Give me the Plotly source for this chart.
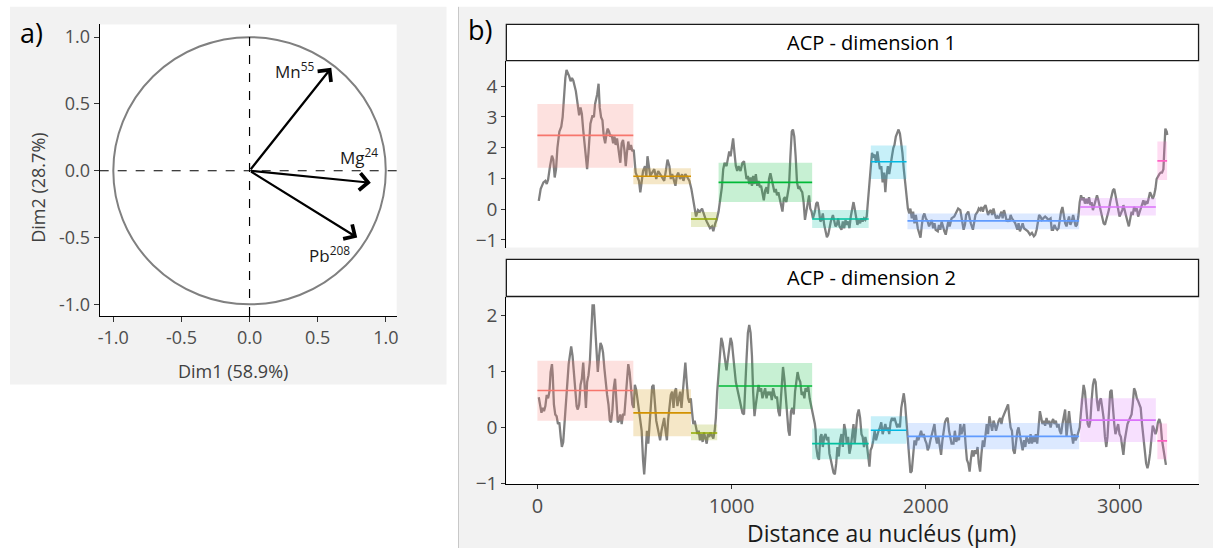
import plotly.graph_objects as go

W, H = 1215, 560
FONT = "Open Sans"

# ---------------- data: panel a (PCA correlation circle) ----------------
var_names = ["Mn<sup>55</sup>", "Mg<sup>24</sup>", "Pb<sup>208</sup>"]
var_dim1 = [0.60, 0.89, 0.79]
var_dim2 = [0.77, -0.09, -0.50]
label_dim1 = [0.33, 0.80, 0.59]
label_dim2 = [0.75, 0.11, -0.63]
circle_ticks = [-1.0, -0.5, 0.0, 0.5, 1.0]

# ---------------- data: panel b (segments) ----------------
seg_start = [0, 494, 791, 933, 1415, 1717, 1906, 2795, 3193]
seg_end = [494, 791, 926, 1415, 1706, 1901, 2790, 3185, 3243]
seg_colors = ["#F8766D", "#D39200", "#93AA00", "#00BA38", "#00C19F",
              "#00B9E3", "#619CFF", "#DB72FB", "#FF61C3"]
dim1_mean = [2.40, 1.07, -0.32, 0.87, -0.32, 1.54, -0.38, 0.07, 1.57]
dim1_low = [1.35, 0.81, -0.58, 0.23, -0.61, 0.98, -0.65, -0.21, 0.95]
dim1_high = [3.42, 1.33, -0.09, 1.51, -0.03, 2.07, -0.14, 0.36, 2.20]
dim2_mean = [0.66, 0.26, -0.10, 0.74, -0.29, -0.05, -0.16, 0.13, -0.24]
dim2_low = [0.12, -0.16, -0.23, 0.33, -0.57, -0.29, -0.39, -0.26, -0.57]
dim2_high = [1.19, 0.68, 0.05, 1.15, -0.02, 0.20, 0.08, 0.52, 0.07]

dim1_points = [
    (7,0.27),(17,0.66),(31,0.87),(41,0.92),(48,0.82),(55,0.96),(65,1.40),(75,1.74),(82,1.61),(89,1.03),
    (96,1.30),(103,1.99),(113,2.52),(123,2.68),(130,2.99),(137,3.74),(144,4.27),(150,4.53),(157,4.43),(164,4.32),
    (171,4.16),(178,4.27),(185,4.18),(191,4.06),(198,3.84),(205,3.52),(215,3.05),(222,3.31),(229,3.10),(236,2.57),
    (246,1.93),(256,1.30),(263,1.83),(273,2.78),(284,3.05),(291,2.99),(297,3.42),(308,3.74),(315,4.08),(321,3.31),
    (328,2.99),(335,2.89),(342,2.36),(349,2.14),(356,2.46),(362,2.62),(369,2.52),(376,2.36),(383,2.41),(390,2.14),
    (397,2.36),(403,2.09),(410,2.30),(417,1.99),(427,1.51),(434,2.14),(441,2.25),(448,1.93),(455,1.40),(461,1.83),
    (468,2.20),(475,1.93),(482,2.09),(489,1.88),(496,1.93),(506,1.19),(513,1.08),(523,0.92),(530,0.55),(537,0.98),
    (544,1.24),(554,1.40),(561,1.08),(567,1.72),(574,1.30),(581,1.08),(591,1.19),(602,1.30),(612,0.98),(622,1.24),
    (632,1.14),(643,1.03),(653,0.92),(663,1.30),(670,1.61),(680,1.40),(687,0.98),(694,1.14),(704,0.87),(711,0.76),
    (718,1.08),(725,1.19),(735,0.98),(745,1.14),(752,0.92),(762,1.14),(773,1.03),(783,0.92),(793,0.66),(803,0.23),
    (810,-0.08),(817,-0.24),(827,-0.03),(837,-0.08),(848,0.02),(855,-0.14),(865,-0.30),(872,-0.40),(882,-0.51),(889,-0.62),
    (899,-0.56),(906,-0.72),(916,-0.46),(923,-0.35),(933,-0.08),(943,0.34),(950,0.71),(957,1.30),(964,1.51),(974,1.40),
    (981,1.72),(988,1.88),(995,1.72),(1002,2.04),(1008,2.30),(1015,1.83),(1022,1.40),(1029,1.24),(1036,1.40),(1046,1.24),
    (1056,1.51),(1064,1.56),(1070,1.30),(1077,0.98),(1084,1.08),(1091,0.82),(1098,1.03),(1105,0.76),(1111,1.08),(1118,0.82),
    (1125,1.14),(1132,0.76),(1139,0.92),(1146,0.71),(1152,0.76),(1159,0.55),(1166,0.29),(1173,0.61),(1180,0.71),(1187,0.50),
    (1193,0.98),(1200,1.17),(1207,0.92),(1214,0.71),(1221,0.55),(1228,0.66),(1234,0.45),(1241,0.55),(1248,0.34),(1255,0.23),
    (1262,-0.08),(1269,0.34),(1275,0.39),(1282,0.23),(1289,0.55),(1296,0.76),(1303,1.72),(1310,2.52),(1316,2.59),(1323,2.36),
    (1330,1.72),(1337,0.87),(1344,0.66),(1351,0.71),(1358,0.61),(1364,0.55),(1371,0.23),(1378,-0.35),(1385,-0.08),(1392,0.18),
    (1399,0.45),(1405,0.02),(1412,-0.08),(1419,-0.30),(1429,-0.08),(1436,0.18),(1443,0.23),(1450,-0.03),(1457,-0.40),(1463,-0.35),
    (1470,-0.14),(1477,-0.51),(1484,-0.72),(1491,-0.91),(1498,-0.83),(1504,-0.62),(1511,-0.40),(1522,-0.19),(1528,-0.35),(1535,-0.56),
    (1542,-0.51),(1549,-0.30),(1556,-0.56),(1566,-0.67),(1573,-0.40),(1580,-0.62),(1587,-0.35),(1593,-0.51),(1600,-0.40),(1607,-0.62),
    (1614,-0.24),(1621,0.02),(1628,0.23),(1634,0.02),(1641,-0.30),(1648,-0.51),(1655,-0.35),(1662,-0.46),(1669,-0.30),(1675,-0.40),
    (1682,-0.30),(1689,-0.35),(1696,-0.24),(1703,0.34),(1710,0.66),(1716,1.19),(1723,1.83),(1730,1.72),(1737,1.77),(1744,1.51),
    (1751,1.88),(1757,1.61),(1764,1.30),(1771,1.40),(1778,0.87),(1785,1.19),(1792,0.55),(1798,1.08),(1805,1.40),(1812,1.14),
    (1819,1.51),(1826,1.72),(1833,1.99),(1839,2.09),(1846,2.36),(1853,2.52),(1860,2.59),(1867,2.46),(1874,2.14),(1880,1.83),
    (1887,1.30),(1894,0.87),(1901,0.34),(1908,0.02),(1915,-0.14),(1921,0.02),(1928,-0.30),(1935,-0.08),(1942,-0.46),(1949,-0.19),
    (1959,-0.62),(1966,-0.77),(1973,-0.93),(1980,-0.51),(1986,-0.24),(1993,-0.14),(2000,-0.30),(2010,-0.40),(2017,-0.56),(2024,-0.46),
    (2031,-0.35),(2038,-0.62),(2045,-0.46),(2051,-0.67),(2062,-0.72),(2068,-0.51),(2075,-0.67),(2082,-0.40),(2089,-0.62),(2096,-0.72),
    (2103,-0.83),(2109,-0.62),(2116,-0.40),(2123,-0.56),(2133,-0.30),(2147,-0.24),(2157,-0.08),(2167,0.02),(2178,-0.03),(2188,-0.40),
    (2195,-0.67),(2202,-0.51),(2208,-0.19),(2219,-0.08),(2226,-0.30),(2232,-0.46),(2243,-0.67),(2249,-0.40),(2256,-0.19),(2267,-0.08),
    (2273,0.02),(2280,-0.03),(2287,0.07),(2294,-0.08),(2301,0.07),(2308,0.13),(2314,-0.03),(2321,-0.19),(2328,-0.08),(2335,-0.03),
    (2342,-0.19),(2349,0.02),(2355,-0.14),(2362,-0.30),(2369,-0.24),(2376,-0.30),(2383,-0.19),(2390,-0.08),(2396,-0.30),(2403,-0.03),
    (2410,-0.19),(2417,-0.40),(2424,-0.35),(2431,-0.40),(2437,-0.19),(2444,-0.30),(2455,-0.40),(2461,-0.46),(2472,-0.67),(2478,-0.46),
    (2485,-0.72),(2492,-0.62),(2499,-0.46),(2506,-0.62),(2516,-0.67),(2526,-0.72),(2537,-0.83),(2547,-0.77),(2557,-0.88),(2564,-0.83),
    (2571,-0.67),(2578,-0.40),(2584,-0.19),(2591,-0.24),(2598,-0.35),(2605,-0.30),(2615,-0.24),(2625,-0.30),(2632,-0.35),(2643,-0.30),
    (2649,-0.67),(2656,-0.67),(2663,-0.51),(2670,-0.62),(2677,-0.67),(2684,-0.62),(2690,-0.30),(2697,-0.08),(2704,0.07),(2711,-0.19),
    (2718,-0.46),(2725,-0.56),(2731,-0.40),(2738,-0.24),(2745,-0.51),(2752,-0.40),(2759,-0.19),(2766,-0.40),(2772,-0.56),(2779,-0.51),
    (2786,-0.24),(2793,0.23),(2800,0.45),(2807,0.29),(2813,0.39),(2820,0.18),(2827,0.34),(2834,0.18),(2841,0.39),(2848,0.13),
    (2854,0.23),(2861,-0.03),(2868,0.13),(2875,0.34),(2882,0.45),(2889,0.29),(2895,0.13),(2902,-0.08),(2909,-0.30),(2916,-0.46),
    (2923,-0.51),(2930,-0.35),(2936,-0.14),(2943,-0.03),(2950,0.23),(2957,0.45),(2964,0.61),(2971,0.66),(2977,0.45),(2984,0.18),
    (2991,-0.08),(2998,-0.24),(3005,-0.14),(3012,-0.03),(3018,0.13),(3025,-0.08),(3032,-0.19),(3039,-0.40),(3046,-0.56),(3053,-0.30),
    (3060,-0.08),(3066,-0.19),(3073,0.07),(3080,-0.03),(3087,0.02),(3094,-0.24),(3101,-0.08),(3107,0.02),(3114,0.18),(3121,0.29),
    (3128,0.13),(3135,0.23),(3142,0.18),(3148,0.34),(3155,0.55),(3162,0.45),(3169,0.34),(3176,0.45),(3183,0.66),(3189,0.98),
    (3196,1.08),(3203,1.14),(3210,1.19),(3217,1.19),(3224,1.30),(3227,1.83),(3230,2.25),(3234,2.62),(3241,2.52),(3244,2.41),
]

dim2_points = [
    (7,0.54),(14,0.38),(21,0.26),(27,0.35),(34,0.29),(41,0.38),(48,0.58),(55,0.52),(62,0.64),(68,0.99),
    (75,1.13),(79,0.93),(85,0.41),(92,0.23),(99,0.20),(106,0.06),(113,0.09),(120,-0.17),(126,-0.35),(133,-0.26),
    (140,0.12),(147,0.52),(154,0.93),(161,1.13),(167,1.28),(174,1.45),(181,1.28),(188,0.93),(195,0.58),(202,0.38),
    (208,0.32),(215,0.41),(222,0.76),(229,0.87),(236,1.16),(243,0.81),(250,0.35),(256,0.81),(263,0.93),(270,1.16),
    (277,1.80),(284,2.18),(291,2.18),(297,1.80),(304,1.40),(311,0.99),(318,1.28),(325,1.51),(332,1.45),(338,1.34),
    (345,1.05),(352,0.76),(359,0.58),(366,0.41),(373,0.12),(379,0.09),(386,0.29),(393,0.70),(400,0.87),(407,0.47),
    (414,0.09),(420,0.12),(427,0.23),(434,0.06),(441,0.23),(448,0.23),(455,0.52),(461,0.87),(468,1.13),(475,0.99),
    (482,0.64),(489,0.41),(496,0.35),(502,0.76),(509,0.67),(516,0.47),(523,0.29),(530,0.17),(537,-0.06),(544,-0.58),
    (550,-0.84),(557,-0.47),(564,-0.06),(571,-0.29),(578,0.06),(585,0.47),(591,0.73),(598,0.76),(605,0.47),(612,0.12),
    (619,0.00),(626,-0.17),(632,-0.23),(639,-0.06),(646,0.06),(653,0.17),(660,-0.06),(667,-0.23),(673,0.12),(680,0.35),
    (687,0.58),(694,0.64),(701,0.35),(708,0.64),(714,0.70),(721,0.38),(728,0.52),(735,0.64),(742,0.35),(749,0.64),
    (755,0.93),(762,1.16),(769,0.81),(776,0.52),(783,0.44),(790,0.52),(796,0.29),(803,0.06),(810,0.12),(817,0.00),
    (824,-0.12),(831,-0.06),(837,-0.23),(844,-0.12),(851,-0.26),(858,-0.09),(865,-0.17),(872,-0.29),(878,-0.12),(885,-0.17),
    (892,-0.09),(899,-0.15),(906,-0.20),(913,-0.06),(919,0.17),(926,0.64),(933,0.99),(940,1.34),(947,1.60),(954,1.51),
    (961,1.34),(967,1.16),(974,1.02),(981,1.22),(988,1.45),(995,1.60),(1002,1.51),(1008,1.34),(1015,1.05),(1022,0.81),
    (1029,0.70),(1036,0.58),(1043,0.52),(1050,0.35),(1056,0.26),(1064,0.23),(1070,0.87),(1077,1.22),(1084,1.69),(1091,1.83),
    (1098,1.69),(1105,1.28),(1111,0.64),(1118,0.20),(1125,0.41),(1132,0.64),(1139,0.76),(1146,0.64),(1152,0.70),(1159,0.52),
    (1166,0.61),(1173,0.70),(1180,0.52),(1187,0.64),(1193,0.58),(1200,0.64),(1207,0.49),(1214,0.70),(1221,0.58),(1228,0.52),
    (1234,0.55),(1241,0.29),(1248,0.20),(1255,0.64),(1262,1.05),(1265,1.08),(1272,0.87),(1279,0.52),(1286,0.17),(1293,-0.06),
    (1299,-0.15),(1306,0.29),(1313,0.35),(1320,0.23),(1327,0.64),(1334,0.81),(1340,0.99),(1347,0.87),(1354,0.81),(1361,0.58),
    (1368,0.64),(1375,0.52),(1381,0.70),(1388,0.64),(1395,0.73),(1402,0.52),(1409,0.41),(1416,0.26),(1422,0.17),(1429,0.06),
    (1433,-0.06),(1436,-0.35),(1443,-0.52),(1450,-0.58),(1457,-0.17),(1463,-0.12),(1470,-0.35),(1477,-0.17),(1484,-0.12),(1491,-0.23),
    (1498,-0.17),(1504,-0.47),(1511,-0.58),(1518,-0.70),(1525,-0.81),(1532,-0.84),(1539,-0.64),(1545,-0.35),(1552,-0.52),(1559,-0.23),
    (1566,-0.12),(1573,-0.35),(1580,0.06),(1587,-0.06),(1593,-0.29),(1600,-0.17),(1607,-0.47),(1614,-0.35),(1621,-0.12),(1628,0.06),
    (1634,-0.29),(1641,0.00),(1648,0.23),(1655,0.32),(1662,0.17),(1669,-0.12),(1675,-0.17),(1682,-0.35),(1689,-0.17),(1696,-0.29),
    (1703,-0.52),(1710,-0.70),(1716,-0.41),(1723,-0.35),(1730,-0.23),(1737,-0.06),(1744,-0.23),(1751,-0.12),(1757,-0.06),(1764,0.00),
    (1771,0.09),(1778,-0.12),(1785,0.00),(1792,0.06),(1798,-0.06),(1805,0.00),(1812,-0.12),(1819,0.09),(1826,0.17),(1833,0.12),
    (1839,0.17),(1846,0.09),(1853,0.00),(1860,0.06),(1867,0.00),(1874,0.35),(1880,0.47),(1887,0.61),(1894,0.41),(1901,0.06),
    (1908,-0.35),(1915,-0.64),(1921,-0.81),(1928,-0.78),(1935,-0.41),(1942,-0.23),(1949,-0.32),(1956,-0.17),(1962,-0.23),(1969,-0.12),
    (1976,-0.06),(1983,-0.17),(1990,-0.12),(1997,-0.23),(2004,-0.29),(2010,-0.41),(2017,-0.35),(2024,-0.23),(2031,-0.12),(2038,0.00),
    (2045,0.06),(2051,-0.17),(2058,-0.29),(2065,-0.17),(2072,-0.35),(2079,-0.49),(2086,-0.23),(2092,-0.06),(2099,0.09),(2106,0.15),
    (2113,0.17),(2120,-0.06),(2127,-0.17),(2133,-0.29),(2143,-0.29),(2150,-0.06),(2157,-0.26),(2164,-0.17),(2171,-0.23),(2178,0.06),
    (2184,-0.12),(2191,0.00),(2198,0.06),(2205,-0.29),(2212,-0.58),(2219,-0.64),(2226,-0.79),(2232,-0.58),(2239,-0.41),(2246,-0.52),
    (2253,-0.41),(2260,-0.47),(2267,-0.35),(2273,-0.64),(2280,-0.79),(2287,-0.47),(2294,-0.23),(2301,-0.35),(2308,-0.06),(2314,0.06),
    (2321,-0.12),(2328,0.20),(2335,0.06),(2342,-0.06),(2349,0.12),(2355,0.06),(2362,-0.06),(2369,0.06),(2376,0.12),(2383,0.17),
    (2390,0.06),(2396,0.17),(2403,0.23),(2410,0.29),(2417,0.35),(2424,0.41),(2431,0.17),(2437,0.00),(2444,-0.06),(2451,-0.41),
    (2458,-0.47),(2465,-0.23),(2472,-0.06),(2478,0.00),(2485,-0.12),(2492,-0.29),(2499,-0.41),(2506,-0.23),(2513,-0.35),(2519,-0.17),
    (2526,-0.23),(2533,-0.29),(2540,-0.12),(2547,-0.29),(2554,-0.17),(2560,-0.26),(2567,-0.12),(2574,-0.29),(2581,0.00),(2588,0.29),
    (2595,0.17),(2601,0.06),(2608,0.12),(2615,0.03),(2622,0.17),(2629,0.06),(2636,0.12),(2643,0.00),(2649,0.09),(2656,0.15),
    (2663,0.06),(2670,0.12),(2677,0.00),(2684,0.06),(2690,-0.06),(2697,-0.12),(2704,0.06),(2711,0.17),(2718,0.32),(2725,-0.17),
    (2731,0.00),(2738,0.29),(2745,0.06),(2752,-0.17),(2759,-0.29),(2766,-0.12),(2772,-0.23),(2779,-0.17),(2786,-0.06),(2793,0.00),
    (2800,0.29),(2807,0.64),(2813,0.76),(2820,0.64),(2827,0.29),(2834,0.06),(2841,0.00),(2848,0.12),(2854,0.47),(2861,0.76),
    (2868,0.87),(2875,0.81),(2882,0.47),(2889,0.29),(2895,0.47),(2902,0.52),(2909,0.35),(2916,0.17),(2923,-0.17),(2930,-0.35),
    (2936,-0.17),(2943,0.17),(2950,0.64),(2957,0.67),(2964,0.29),(2971,0.06),(2977,-0.12),(2984,0.00),(2991,0.06),(2998,-0.12),
    (3005,-0.17),(3012,-0.35),(3018,-0.49),(3025,-0.23),(3032,-0.06),(3039,0.06),(3046,0.12),(3053,0.17),(3060,0.23),(3066,0.41),
    (3073,0.70),(3080,0.64),(3087,0.52),(3094,0.47),(3101,0.41),(3107,0.35),(3114,0.06),(3121,-0.17),(3128,-0.41),(3135,-0.64),
    (3142,-0.73),(3148,-0.64),(3155,-0.47),(3162,-0.17),(3169,0.03),(3176,-0.03),(3183,-0.12),(3189,-0.06),(3196,0.09),(3203,0.15),
    (3210,0.06),(3217,-0.23),(3224,-0.41),(3230,-0.58),(3237,-0.67),
]

dim1_distance = [p[0] for p in dim1_points]
dim1_score = [p[1] for p in dim1_points]
dim2_distance = [p[0] for p in dim2_points]
dim2_score = [p[1] for p in dim2_points]
x_ticks_b = [0, 1000, 2000, 3000]
dim1_ticks = [-1, 0, 1, 2, 3, 4]
dim2_ticks = [-1, 0, 1, 2]


def px(x):
    return x / W


def py(y):
    return 1 - y / H


def rgba(hexc, a):
    h = hexc.lstrip("#")
    return "rgba(%d,%d,%d,%.2f)" % (int(h[0:2], 16), int(h[2:4], 16), int(h[4:6], 16), a)


fig = go.Figure()

# panel b: profiles and segment mean lines
for axis_suffix, dist, score, means in [("2", dim1_distance, dim1_score, dim1_mean),
                                        ("3", dim2_distance, dim2_score, dim2_mean)]:
    fig.add_trace(go.Scatter(x=dist, y=score, mode="lines",
                             line=dict(color="#808080", width=2.3),
                             xaxis="x" + axis_suffix, yaxis="y" + axis_suffix,
                             showlegend=False, hoverinfo="skip"))
    for s, e, m, c in zip(seg_start, seg_end, means, seg_colors):
        fig.add_trace(go.Scatter(x=[s, e], y=[m, m], mode="lines",
                                 line=dict(color=c, width=1.6),
                                 xaxis="x" + axis_suffix, yaxis="y" + axis_suffix,
                                 showlegend=False, hoverinfo="skip"))

# plot-area boxes in pixels (left, top, right, bottom)
area_a = (98, 25, 396, 323)
area_b1 = (506, 62, 1200.5, 253)
area_b2 = (506, 303, 1200.5, 494.5)

shapes = []
# grey backgrounds of the two panels
shapes.append(dict(type="rect", xref="paper", yref="paper", x0=px(8), x1=px(446), y0=py(393), y1=py(7),
                   fillcolor="#F2F2F2", line=dict(width=0), layer="below"))
shapes.append(dict(type="rect", xref="paper", yref="paper", x0=px(458), x1=px(1215), y0=py(560), y1=py(7),
                   fillcolor="#F2F2F2", line=dict(width=0), layer="below"))
shapes.append(dict(type="line", xref="paper", yref="paper", x0=px(458), x1=px(458), y0=py(560), y1=py(7),
                   line=dict(color="#C8C8C8", width=1), layer="below"))
# white plot areas
for l, t, r, b in [area_a, area_b1, area_b2]:
    shapes.append(dict(type="rect", xref="paper", yref="paper", x0=px(l), x1=px(r), y0=py(b), y1=py(t),
                       fillcolor="white", line=dict(width=0), layer="below"))
# strips
for top, bot in [(25, 62), (265, 303)]:
    shapes.append(dict(type="rect", xref="paper", yref="paper", x0=px(506), x1=px(1200.5), y0=py(bot), y1=py(top),
                       fillcolor="white", line=dict(color="#1a1a1a", width=1.3), layer="below"))

# panel a: circle and dashed axes
shapes.append(dict(type="circle", xref="x", yref="y", x0=-1, y0=-1, x1=1, y1=1,
                   line=dict(color="#808080", width=2)))
shapes.append(dict(type="line", xref="x domain", yref="y", x0=0, x1=1, y0=0, y1=0,
                   line=dict(color="black", width=1.2, dash="dash")))
shapes.append(dict(type="line", xref="x", yref="y domain", x0=0, x1=0, y0=0, y1=1,
                   line=dict(color="black", width=1.2, dash="dash")))

# panel b: translucent segment boxes drawn over the profile
for axis_suffix, lows, highs in [("2", dim1_low, dim1_high), ("3", dim2_low, dim2_high)]:
    for s, e, lo, hi, c in zip(seg_start, seg_end, lows, highs, seg_colors):
        shapes.append(dict(type="rect", xref="x" + axis_suffix, yref="y" + axis_suffix,
                           x0=s, x1=e, y0=lo, y1=hi, fillcolor=rgba(c, 0.22),
                           line=dict(width=0), layer="above"))

annotations = []
# arrows
for xe, ye in zip(var_dim1, var_dim2):
    annotations.append(dict(x=xe, y=ye, ax=0, ay=0, xref="x", yref="y", axref="x", ayref="y",
                            text="", showarrow=True, arrowhead=4, arrowsize=1.5, arrowwidth=2.2,
                            arrowcolor="black", standoff=0, startstandoff=0))
for name, lx, ly in zip(var_names, label_dim1, label_dim2):
    annotations.append(dict(x=lx, y=ly, xref="x", yref="y", text=name, showarrow=False,
                            font=dict(family=FONT, size=17, color="#1a1a1a")))


def label(text, x, y, size, color="#1a1a1a", angle=0):
    annotations.append(dict(x=px(x), y=py(y), xref="paper", yref="paper", text=text, showarrow=False,
                            xanchor="center", yanchor="middle", textangle=angle,
                            font=dict(family=FONT, size=size, color=color)))


label("a)", 30, 33, 27, "black")
label("b)", 480, 30, 27, "black")
label("Dim1 (58.9%)", 232, 379, 18, "#404040")
label("Dim2 (28.7%)", 36, 192, 18, "#404040", -90)
label("ACP - dimension 1", 872, 43.5, 20, "black")
label("ACP - dimension 2", 872, 284, 20, "black")
label("Distance au nucléus (µm)", 882, 545, 23, "#1a1a1a")

axis_common = dict(showgrid=False, zeroline=False, showline=True, linecolor="black", linewidth=1.1,
                   ticks="outside", tickcolor="#333333", tickwidth=1.1, mirror=False)

fig.update_layout(
    width=W, height=H, margin=dict(l=0, r=0, t=0, b=0),
    paper_bgcolor="white", plot_bgcolor="white", showlegend=False,
    font=dict(family=FONT, color="#4d4d4d"),
    shapes=shapes, annotations=annotations,
    xaxis=dict(domain=[px(area_a[0]), px(area_a[2])], range=[-1.10, 1.08], anchor="y",
               tickvals=circle_ticks, ticktext=["%.1f" % v for v in circle_ticks], ticklen=5,
               tickfont=dict(size=18, color="#4d4d4d"), **axis_common),
    yaxis=dict(domain=[py(area_a[3]), py(area_a[1])], range=[-1.088, 1.095], anchor="x",
               tickvals=circle_ticks, ticktext=["%.1f" % v for v in circle_ticks], ticklen=5,
               tickfont=dict(size=18, color="#4d4d4d"), **axis_common),
    xaxis2=dict(domain=[px(area_b1[0]), px(area_b1[2])], range=[-160, 3405], anchor="y2",
                showgrid=False, zeroline=False, showline=False, showticklabels=False, ticks=""),
    yaxis2=dict(domain=[py(area_b1[3]), py(area_b1[1])], range=[-1.25, 4.83], anchor="x2",
                tickvals=dim1_ticks, ticklen=4, tickfont=dict(size=19, color="#4d4d4d"), **axis_common),
    xaxis3=dict(domain=[px(area_b2[0]), px(area_b2[2])], range=[-160, 3405], anchor="y3", matches="x2",
                tickvals=x_ticks_b, ticklen=4, tickfont=dict(size=20, color="#4d4d4d"), **axis_common),
    yaxis3=dict(domain=[py(area_b2[3]), py(area_b2[1])], range=[-1.01, 2.34], anchor="x3",
                tickvals=dim2_ticks, ticklen=4, tickfont=dict(size=19, color="#4d4d4d"), **axis_common),
)

fig.write_html("out.html")
